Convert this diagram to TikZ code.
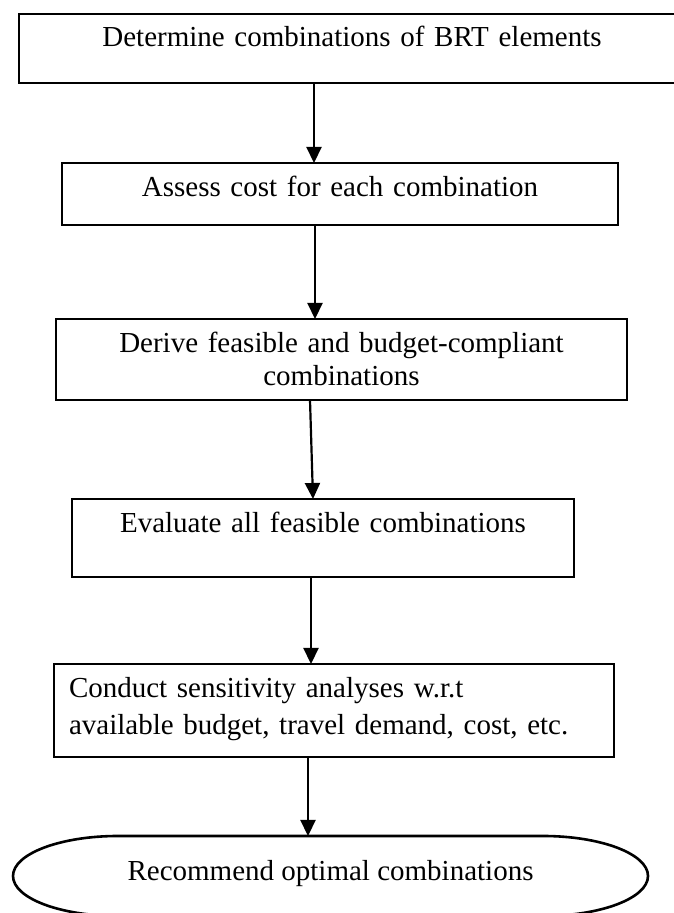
\documentclass[tikz,border=0pt]{standalone}
\usepackage{fontspec}
\setmainfont{Liberation Serif}
\usetikzlibrary{arrows.meta}

\begin{document}
\begin{tikzpicture}[x=1pt,y=1pt,
	stepbox/.style={draw,line width=2.6pt,inner sep=0pt,outer sep=0pt,align=center,font=\fontsize{29}{33}\selectfont},
	flow/.style={-{Triangle[length=16pt,width=15pt]},line width=2.2pt}]
	\useasboundingbox (0,0) rectangle (674,913);
	\clip (0,0) rectangle (674,913);
	
	% Steps
	\node[stepbox,text width=666pt,text height=33pt,text depth=36pt] (det) at (352,864.5) {Determine combinations of BRT elements};
	\node[stepbox,text width=556pt,text height=34pt,text depth=28pt] (assess) at (340,719) {Assess cost for each combination};
	\node[stepbox,text width=571pt,text height=34pt,text depth=47pt] (derive) at (341.5,553.5) {Derive feasible and budget-compliant\\combinations};
	\node[stepbox,text width=502pt,text height=34pt,text depth=44pt] (evaluate) at (323,375) {Evaluate all feasible combinations};
	\node[stepbox,align=left,inner xsep=15pt,text width=530pt,text height=34pt,text depth=59pt,font=\fontsize{29}{37}\selectfont] (conduct) at (334,202.5) {Conduct sensitivity analyses w.r.t\\available budget, travel demand, cost, etc.};
	
	% End step
	\node[stepbox,draw=none,minimum width=635pt,text height=45pt,text depth=35pt] (rec) at (330.5,37) {Recommend optimal combinations};
	\draw[line width=2.6pt] ([xshift=105pt]rec.north west) -- ([xshift=-105pt]rec.north east)
		arc[start angle=90,end angle=-90,x radius=105pt,y radius=40pt]
		-- ([xshift=105pt]rec.south west)
		arc[start angle=270,end angle=90,x radius=105pt,y radius=40pt] -- cycle;
	
	% Arrows
	\draw[flow] ([xshift=-38pt]det.south) -- ([xshift=-26pt]assess.north);
	\draw[flow] ([xshift=-25pt]assess.south) -- ([xshift=-26.5pt]derive.north);
	\draw[flow] ([xshift=-31.5pt]derive.south) -- ([xshift=-10pt]evaluate.north);
	\draw[flow] ([xshift=-12pt]evaluate.south) -- ([xshift=-23pt]conduct.north);
	\draw[flow] ([xshift=-26pt]conduct.south) -- ([xshift=-22.5pt]rec.north);
\end{tikzpicture}
\end{document}
